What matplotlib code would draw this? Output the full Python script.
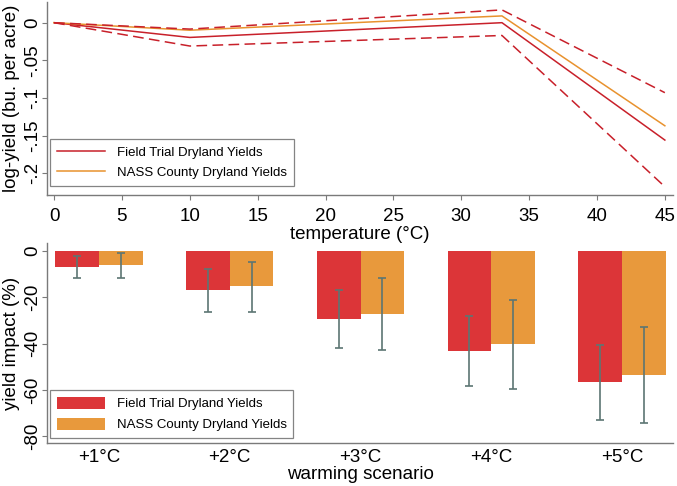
import numpy as np
import matplotlib
matplotlib.use('Agg')
import matplotlib.pyplot as plt

plt.rcParams['font.family'] = ['Liberation Sans', 'DejaVu Sans']

# panel A: piecewise linear temperature response
temp = [0, 10, 33, 45]
field = [0.0, -0.0196, 0.0, -0.156]
field_hi = [0.0, -0.0085, 0.017, -0.093]
field_lo = [0.0, -0.031, -0.017, -0.218]
nass = [0.0, -0.010, 0.009, -0.137]

# panel B: warming scenarios
scenarios = ['+1°C', '+2°C', '+3°C', '+4°C', '+5°C']
field_imp = [-7.0, -17.0, -29.3, -43.1, -56.6]
field_err_hi = [-2.2, -8.0, -17.0, -28.2, -40.7]
field_err_lo = [-11.9, -26.3, -42.1, -58.3, -72.8]
nass_imp = [-6.3, -15.3, -27.2, -40.3, -53.4]
nass_err_hi = [-0.9, -4.8, -11.7, -21.4, -32.7]
nass_err_lo = [-11.6, -26.3, -42.8, -59.5, -74.3]

red_line = '#c8202a'
orange_line = '#e8922e'
red_bar = '#dc3538'
orange_bar = '#e8993c'
err_col = '#5c7673'
spine_col = '#7a7a7a'

fig = plt.figure(figsize=(6.77, 4.86), dpi=100)
ax1 = fig.add_axes([47/677, 1-195/486, 626/677, 193/486])
ax2 = fig.add_axes([47/677, 1-443/486, 626/677, 200/486])

for ax in (ax1, ax2):
    for s in ['top', 'right']:
        ax.spines[s].set_visible(False)
    for s in ['left', 'bottom']:
        ax.spines[s].set_color(spine_col)
        ax.spines[s].set_linewidth(1.0)
    ax.tick_params(colors=spine_col, labelcolor='black', labelsize=13.5,
                   length=3.8, width=0.8)
    ax.tick_params(axis='y', pad=0.5)
    ax.yaxis.set_label_coords(-0.043, 0.5)

# --- top panel
ax1.plot(temp, field, color=red_line, lw=1.1, label='Field Trial Dryland Yields')
ax1.plot(temp, nass, color=orange_line, lw=1.1, label='NASS County Dryland Yields')
ax1.plot(temp, field_hi, color=red_line, lw=1.1, dashes=(7, 3.5))
ax1.plot(temp, field_lo, color=red_line, lw=1.1, dashes=(7, 3.5))
ax1.set_xlim(-0.52, 45.6)
ax1.set_ylim(-0.229, 0.0275)
ax1.set_xticks(np.arange(0, 46, 5))
ax1.tick_params(axis='x', pad=5.5)
ax1.set_yticks([0, -0.05, -0.1, -0.15, -0.2])
ax1.set_yticklabels(['0', '-.05', '-.1', '-.15', '-.2'], rotation=90, va='center')
ax1.set_xlabel('temperature (°C)', fontsize=13.5, labelpad=0.5)
ax1.set_ylabel('log-yield (bu. per acre)', fontsize=13.5)
leg1 = ax1.legend(loc='lower left', bbox_to_anchor=(3/626, 9/193), fontsize=9.5,
                  frameon=True, fancybox=False, edgecolor='#666666',
                  handlelength=3.6, handletextpad=0.9, borderaxespad=0,
                  labelspacing=0.6, borderpad=0.55)
leg1.get_frame().set_linewidth(0.9)

# --- bottom panel
x = np.arange(1, len(scenarios) + 1)
w = 0.333
fi = np.array(field_imp)
ni = np.array(nass_imp)
ax2.bar(x - w/2, fi, width=w, color=red_bar, label='Field Trial Dryland Yields')
ax2.bar(x + w/2, ni, width=w, color=orange_bar, label='NASS County Dryland Yields')
ax2.errorbar(x - w/2, fi,
             yerr=[fi - np.array(field_err_lo), np.array(field_err_hi) - fi],
             fmt='none', ecolor=err_col, elinewidth=1.2, capsize=3, capthick=1.2)
ax2.errorbar(x + w/2, ni,
             yerr=[ni - np.array(nass_err_lo), np.array(nass_err_hi) - ni],
             fmt='none', ecolor=err_col, elinewidth=1.2, capsize=3, capthick=1.2)
ax2.set_xlim(0.602, 5.39)
ax2.set_ylim(-82.8, 3.3)
ax2.set_xticks(x)
ax2.set_xticklabels(scenarios)
ax2.tick_params(axis='x', length=0, pad=4)
ax2.set_yticks([0, -20, -40, -60, -80])
ax2.set_yticklabels(['0', '-20', '-40', '-60', '-80'], rotation=90, va='center')
ax2.set_xlabel('warming scenario', fontsize=13.5, labelpad=0)
ax2.set_ylabel('yield impact (%)', fontsize=13.5)
leg2 = ax2.legend(loc='lower left', bbox_to_anchor=(3/626, 5/200), fontsize=9.5,
                  frameon=True, fancybox=False, edgecolor='#666666',
                  handlelength=3.7, handleheight=1.1, handletextpad=0.85,
                  borderaxespad=0, labelspacing=0.55, borderpad=0.5)
leg2.get_frame().set_linewidth(0.9)

fig.savefig('out.png', dpi=100)
